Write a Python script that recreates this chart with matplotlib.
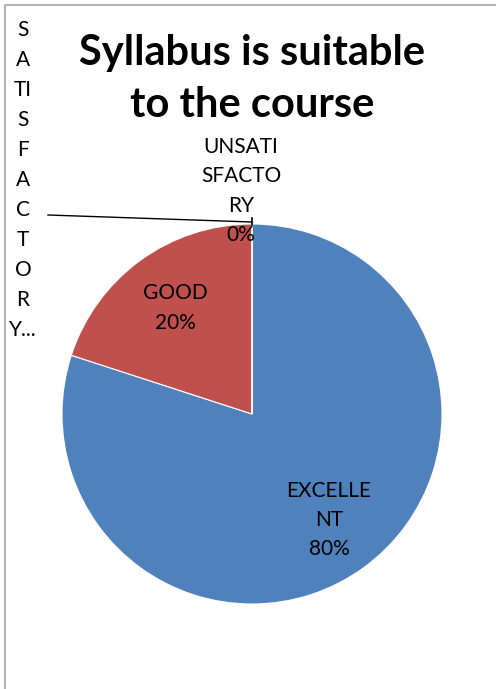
import numpy as np
import matplotlib.pyplot as plt
from matplotlib.patches import Rectangle

plt.rcParams['font.family'] = ['Lato', 'DejaVu Sans']

# data
categories = ["EXCELLENT", "GOOD", "SATISFACTORY", "UNSATISFACTORY"]
values = [80, 20, 0, 0]
shown = ["EXCELLE\nNT", "GOOD", "S\nA\nTI\nS\nF\nA\nC\nT\nO\nR\nY...", "UNSATI\nSFACTO\nRY"]
colors = ['#4F81BD', '#C0504D', '#9BBB59', '#8064A2']
title = "Syllabus is suitable\nto the course"

W, H = 496, 689
fig = plt.figure(figsize=(W / 100, H / 100), dpi=100)
ax = fig.add_axes([0, 0, 1, 1])

# chart border (only top and left show in the crop)
ax.add_patch(Rectangle((4.5, -10), 600, H - 4.5 + 10, fill=False,
                       edgecolor='#a6a6a6', linewidth=1.2))

cx, cy, R = 252, 275, 190
wedges, _ = ax.pie(values, colors=colors, startangle=90, counterclock=False,
                   radius=R, center=(cx, cy), frame=True,
                   wedgeprops=dict(edgecolor='white', linewidth=0.8))
ax.set_xlim(0, W)
ax.set_ylim(0, H)
ax.set_aspect('equal')
ax.axis('off')

total = sum(values)
for w, lab, v in zip(wedges, shown, values):
    pct = f"{round(100 * v / total)}%"
    ang = np.deg2rad((w.theta1 + w.theta2) / 2)
    if v > 0:
        r = 0.69 * R
        ax.text(cx + r * np.cos(ang), cy + r * np.sin(ang), lab + "\n" + pct,
                ha='center', va='center', fontsize=15, linespacing=1.58)

# zero slices sit at the top of the pie
top_x = cx + R * np.cos(np.deg2rad(wedges[3].theta1))
top_y = cy + R * np.sin(np.deg2rad(wedges[3].theta1))
ax.text(top_x - 11, top_y + 33, shown[3] + "\n0%", ha='center', va='center',
        fontsize=15, linespacing=1.58)
ax.text(23, 509, shown[2], ha='center', va='center',
        fontsize=15, linespacing=1.62)
ax.plot([48, top_x], [474, top_y + 2], color='black', linewidth=1)
ax.plot([top_x, top_x], [top_y - 1, top_y + 6], color='black', linewidth=1.2)

ax.text(252, 610, title, ha='center', va='center', fontsize=30,
        fontweight='bold', linespacing=1.42)

fig.savefig('out.png', dpi=100)
